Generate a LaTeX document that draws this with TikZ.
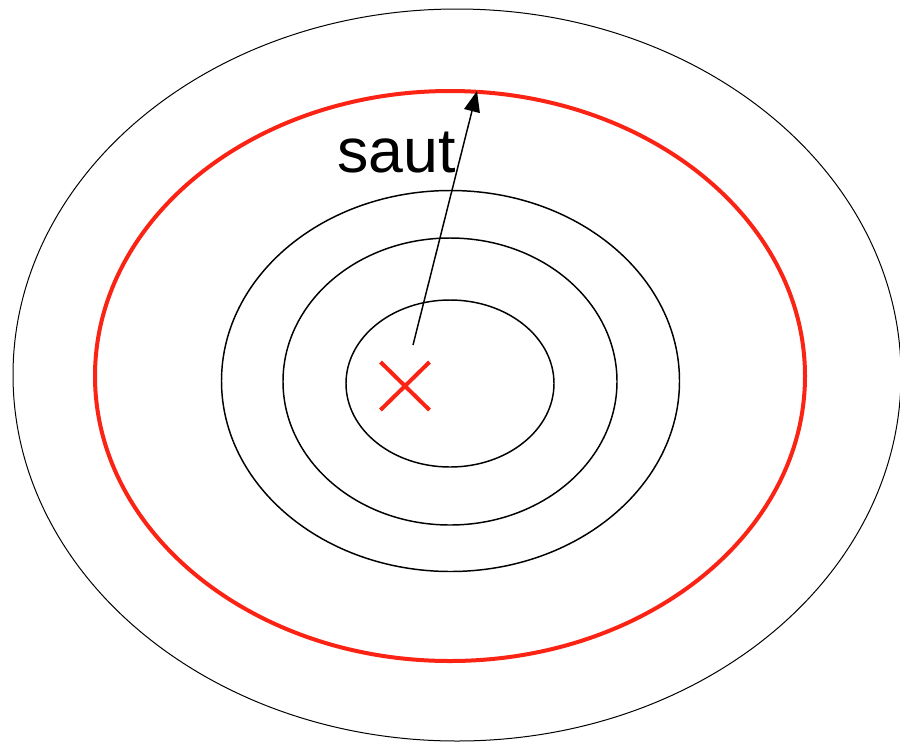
\documentclass[tikz,border=0pt]{standalone}
\usepackage{fontspec}
\setmainfont{Liberation Sans}
\usetikzlibrary{arrows.meta}
\definecolor{myred}{RGB}{250,35,20}
\tikzset{
  thinring/.style={draw=black, line width=0.75pt},
  ring/.style={draw=black, line width=1.1pt},
  redring/.style={draw=myred, line width=3pt},
  cross/.style={draw=myred, line width=3pt},
  jump/.style={draw=black, line width=1.1pt, -{Triangle[length=15.5pt, width=12pt]}},
  lbl/.style={inner sep=0pt, anchor=base west, font=\fontsize{47pt}{56pt}\selectfont}
}
\begin{document}
\begin{tikzpicture}[x=0.75pt, y=-0.75pt]
  \useasboundingbox (0,0) rectangle (900,744);
  \draw[thinring] (457,375) ellipse [x radius=444, y radius=366];
  \draw[redring] (450,376) ellipse [x radius=355, y radius=285];
  \draw[ring] (450.5,381) ellipse [x radius=229, y radius=190.5];
  \draw[ring] (450,381.5) ellipse [x radius=167, y radius=143.5];
  \draw[ring] (450,383.5) ellipse [x radius=104, y radius=83.5];
  \draw[cross] (380.5,362) -- (429.5,410) (380.5,410) -- (429.5,362);
  \coordinate (start) at (413,345);
  \coordinate (target) at (477,91);
  \draw[jump] (start) -- (target);
  \node[lbl] (saut) at (337,172) {saut};
\end{tikzpicture}
\end{document}
